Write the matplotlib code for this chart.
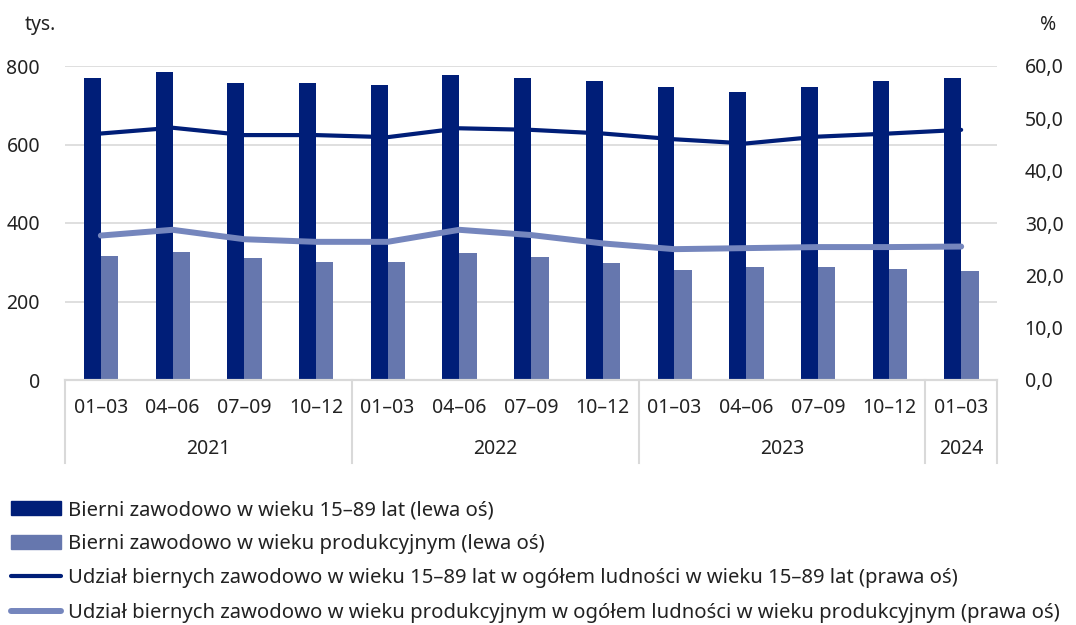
import numpy as np
import matplotlib
matplotlib.use("Agg")
from matplotlib import pyplot as plt
from matplotlib.patches import Patch
from matplotlib.lines import Line2D

plt.rcParams['font.family'] = ['Noto Sans', 'DejaVu Sans']

# data
quarters = ['01–03', '04–06', '07–09', '10–12',
            '01–03', '04–06', '07–09', '10–12',
            '01–03', '04–06', '07–09', '10–12',
            '01–03']
years = ['2021', '2022', '2023', '2024']
year_sizes = [4, 4, 4, 1]

bierni_15_89 = [770, 784, 757, 757, 751, 777, 770, 761, 747, 734, 747, 761, 770]
bierni_prod = [317, 327, 311, 301, 301, 324, 313, 297, 281, 287, 287, 284, 278]
udzial_15_89 = [47.1, 48.2, 46.8, 46.8, 46.4, 48.1, 47.8, 47.1, 46.0, 45.2, 46.5, 47.1, 47.8]
udzial_prod = [27.6, 28.7, 26.9, 26.4, 26.4, 28.7, 27.7, 26.1, 25.0, 25.2, 25.4, 25.4, 25.5]

labels = ['Bierni zawodowo w wieku 15–89 lat (lewa oś)',
          'Bierni zawodowo w wieku produkcyjnym (lewa oś)',
          'Udział biernych zawodowo w wieku 15–89 lat w ogółem ludności w wieku 15–89 lat (prawa oś)',
          'Udział biernych zawodowo w wieku produkcyjnym w ogółem ludności w wieku produkcyjnym (prawa oś)']

dark = '#001e78'
light = '#6677ae'
light_line = '#7586bd'
grid_c = '#d9d9d9'
txt = '#222222'
fs = 14

fig = plt.figure(figsize=(10.76, 6.25), dpi=100)
ax = fig.add_axes([65 / 1076, 245 / 625, 932 / 1076, 314 / 625])
ax2 = ax.twinx()

x = np.arange(len(quarters))
w = 0.235
ax.bar(x - w, bierni_15_89, width=w, align='edge', color=dark, zorder=2)
ax.bar(x, bierni_prod, width=w + 0.01, align='edge', color=light, zorder=2)

ax2.plot(x, udzial_15_89, color=dark, lw=3, solid_capstyle='round', zorder=3)
ax2.plot(x, udzial_prod, color=light_line, lw=4.3, solid_capstyle='round', zorder=3)

ax.set_xlim(-0.5, len(quarters) - 0.5)
ax.set_ylim(0, 800)
ax.set_yticks([0, 200, 400, 600, 800])
ax2.set_ylim(0, 60)
ax2.set_yticks([0, 10, 20, 30, 40, 50, 60])
ax2.set_yticklabels([f'{v:.1f}'.replace('.', ',') for v in range(0, 70, 10)])

ax.grid(axis='y', color=grid_c, lw=1.2, zorder=0)
ax.set_axisbelow(True)
for a in (ax, ax2):
    for s in ['top', 'left', 'right']:
        a.spines[s].set_visible(False)
    a.spines['bottom'].set_color(grid_c)
    a.spines['bottom'].set_linewidth(1.5)
    a.tick_params(length=0, labelsize=fs, colors=txt)
ax.tick_params(axis='y', pad=18)
ax2.tick_params(axis='y', pad=20)

ax.set_xticks(x)
ax.set_xticklabels(quarters)
ax.tick_params(axis='x', pad=13)

# year row and separators below the axis
trans = ax.get_xaxis_transform()
bounds = [-0.5]
for n in year_sizes:
    bounds.append(bounds[-1] + n)
for b in bounds:
    ax.plot([b, b], [0, -0.264], transform=trans, color=grid_c, lw=1.5, clip_on=False)
for i, yr in enumerate(years):
    ax.text((bounds[i] + bounds[i + 1]) / 2, -0.22, yr, transform=trans,
            ha='center', va='center', fontsize=fs, color=txt)

fig.text(25 / 1076, 1 - 25 / 625, 'tys.', fontsize=fs, color=txt, va='center')
fig.text(1040 / 1076, 1 - 25 / 625, '%', fontsize=fs, color=txt, va='center')

handles = [Patch(color=dark), Patch(color=light),
           Line2D([], [], color=dark, lw=3, solid_capstyle='round'),
           Line2D([], [], color=light_line, lw=4.3, solid_capstyle='round')]
fig.legend(handles, labels, loc='upper left', bbox_to_anchor=(0.003, 1 - 492 / 625),
           frameon=False, fontsize=14.6, handlelength=2.45, handletextpad=0.35,
           labelspacing=0.7, borderaxespad=0, labelcolor=txt)

fig.savefig('out.png', dpi=100)
